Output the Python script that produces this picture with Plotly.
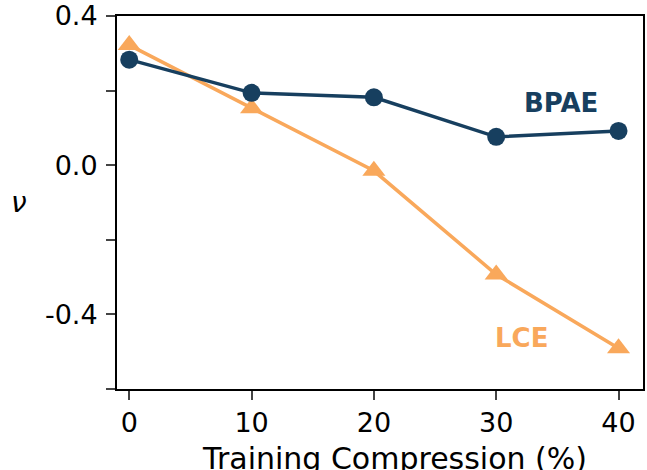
import plotly.graph_objects as go

compression = [0, 10, 20, 30, 40]
bpae = [0.283, 0.194, 0.182, 0.076, 0.092]
lce = [0.322, 0.153, -0.015, -0.293, -0.491]

y_tickvals = [0.4, 0.2, 0.0, -0.2, -0.4, -0.6]
y_ticktext = ["0.4", "", "0.0", "", "-0.4", ""]
x_tickvals = [0, 10, 20, 30, 40]

navy = "#173F5F"
orange = "#F9A85B"
font = "DejaVu Sans"

fig = go.Figure()
fig.add_trace(go.Scatter(x=compression, y=lce, mode="lines+markers", name="LCE",
                         line=dict(color=orange, width=3.5),
                         marker=dict(symbol="triangle-up", size=20, color=orange)))
fig.add_trace(go.Scatter(x=compression, y=bpae, mode="lines+markers", name="BPAE",
                         line=dict(color=navy, width=3.5),
                         marker=dict(symbol="circle", size=18, color=navy)))

fig.add_annotation(x=35.3, y=0.166, text="<b>BPAE</b>", showarrow=False,
                   font=dict(family=font, size=26, color=navy))
fig.add_annotation(x=32.1, y=-0.462, text="<b>LCE</b>", showarrow=False,
                   font=dict(family=font, size=26, color=orange))
# axis titles as annotations (y title upright, x title placed low like the reference)
fig.add_annotation(xref="paper", yref="paper", x=-0.186, y=0.499, text="<i>ν</i>",
                   xanchor="center", yanchor="middle",
                   showarrow=False, font=dict(family=font, size=28, color="black"))
fig.add_annotation(xref="paper", yref="paper", x=0.5285, y=-0.186,
                   text="Training Compression (%)", xanchor="center", yanchor="middle",
                   showarrow=False, font=dict(family=font, size=30, color="black"))

fig.update_layout(
    width=647, height=470,
    margin=dict(l=117, r=4, t=16, b=81),
    plot_bgcolor="white", paper_bgcolor="white",
    showlegend=False,
    font=dict(family=font, size=27, color="black"),
)
fig.update_xaxes(range=[-1, 42], tickvals=x_tickvals, ticks="outside", ticklen=9, tickwidth=1.5,
                 showline=True, linecolor="black", linewidth=2, mirror=True, showgrid=False,
                 zeroline=False, tickfont=dict(size=27), automargin=False)
fig.update_yaxes(range=[-0.6, 0.4], tickvals=y_tickvals, ticktext=y_ticktext, ticks="outside",
                 ticklen=9, tickwidth=1.5, showline=True, linecolor="black", linewidth=2,
                 mirror=True, showgrid=False, zeroline=False, tickfont=dict(size=27),
                 automargin=False, ticklabelstandoff=3, ticklabeloverflow="allow")

# remove the browser's default 8px body margin so the figure sits at the page origin
fig.write_html("out.html", config={"displayModeBar": False},
               post_script="document.body.style.margin='0px';")
